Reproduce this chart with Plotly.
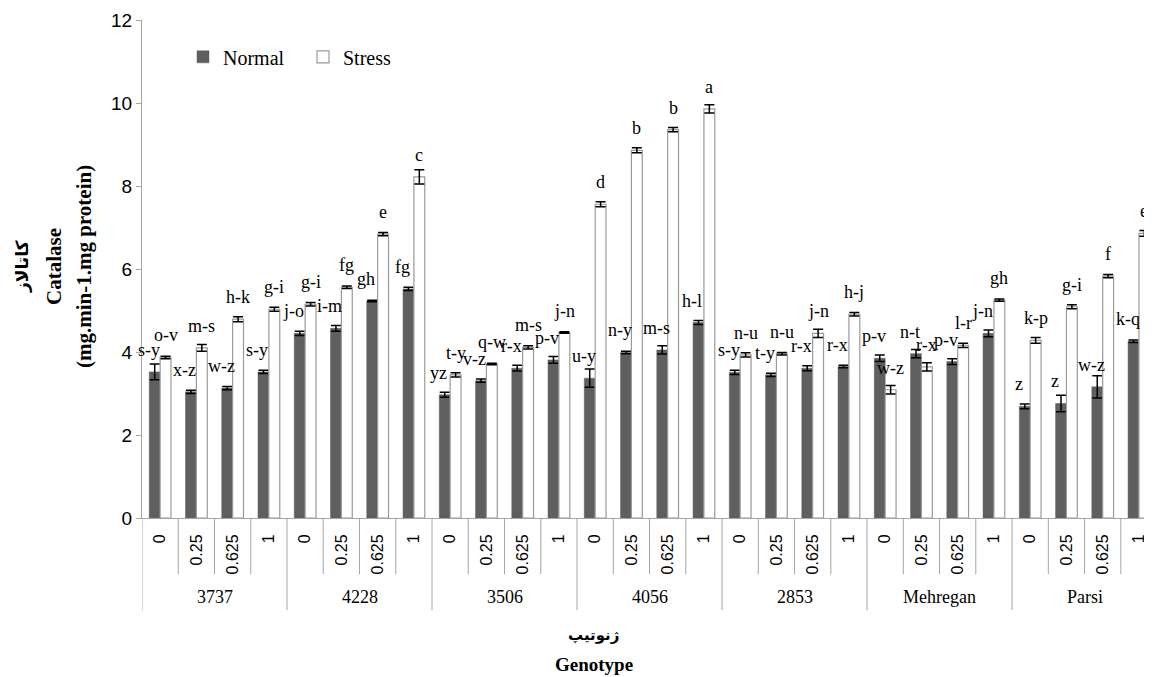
import plotly.graph_objects as go

genotypes = ["3737", "4228", "3506", "4056", "2853", "Mehregan", "Parsi"]
concentrations = ["0", "0.25", "0.625", "1"]

normal = [3.52, 3.04, 3.13, 3.52, 4.45, 4.57, 5.23, 5.52, 2.97, 3.31, 3.61, 3.81,
          3.37, 3.99, 4.05, 4.71, 3.51, 3.45, 3.61, 3.65, 3.85, 3.96, 3.77, 4.45,
          2.69, 2.76, 3.16, 4.26]
stress = [3.87, 4.10, 4.79, 5.03, 5.15, 5.56, 6.84, 8.22, 3.45, 3.71, 4.11, 4.47,
          7.56, 8.86, 9.36, 9.86, 3.93, 3.96, 4.45, 4.91, 3.09, 3.64, 4.16, 5.25,
          4.28, 5.09, 5.83, 6.86]
normal_err = [0.19, 0.04, 0.04, 0.04, 0.05, 0.07, 0.02, 0.04, 0.06, 0.04, 0.07, 0.08,
              0.22, 0.03, 0.10, 0.05, 0.05, 0.04, 0.06, 0.03, 0.08, 0.10, 0.07, 0.08,
              0.06, 0.20, 0.27, 0.03]
stress_err = [0.03, 0.08, 0.06, 0.05, 0.04, 0.03, 0.04, 0.17, 0.05, 0.02, 0.04, 0.02,
              0.06, 0.06, 0.05, 0.10, 0.05, 0.03, 0.10, 0.04, 0.10, 0.10, 0.05, 0.03,
              0.07, 0.05, 0.04, 0.07]
normal_labels = ["s-y", "x-z", "w-z", "s-y", "j-o", "i-m", "gh", "fg", "yz", "v-z", "r-x", "p-v",
                 "u-y", "n-y", "m-s", "h-l", "s-y", "t-y", "r-x", "r-x", "p-v", "n-t", "p-v", "j-n",
                 "z", "z", "w-z", "k-q"]
stress_labels = ["o-v", "m-s", "h-k", "g-i", "g-i", "fg", "e", "c", "t-y", "q-w", "m-s", "j-n",
                 "d", "b", "b", "a", "n-u", "n-u", "j-n", "h-j", "w-z", "r-x", "l-r", "gh",
                 "k-p", "g-i", "f", "e"]

n_cat = len(concentrations)
idx = list(range(len(genotypes) * n_cat))
tick_text = [concentrations[i % n_cat] for i in idx]

SERIF = "Liberation Serif, Times New Roman, DejaVu Serif"
SANS = "Liberation Sans, Arial, DejaVu Sans"
BARGAP = 0.4
half = (1 - BARGAP) / 4  # center offset of each bar within the pair
LABEL_LIFT = 22          # px from bar top to label centre

# page body has an 8px default margin; the figure is sized to fit the window
BODY = 8
L, T, B = 134, 12, 159
FIG_W, FIG_H = 1152 - BODY, 677 - BODY
W = FIG_W - L


def px_to_paper_x(screen_x):
    return (screen_x - BODY - L) / W


fig = go.Figure()
fig.add_trace(go.Bar(
    x=idx, y=normal, name="Normal",
    marker=dict(color="#5f5f5f", line=dict(color="#5f5f5f", width=0.5)),
    error_y=dict(type="data", array=normal_err, color="black", thickness=1.5, width=5),
))
fig.add_trace(go.Bar(
    x=idx, y=stress, name="Stress",
    marker=dict(color="white", line=dict(color="#9a9a9a", width=1.2)),
    error_y=dict(type="data", array=stress_err, color="black", thickness=1.5, width=5),
))

annotations = []
for i in idx:
    annotations.append(dict(x=i - half, y=normal[i], xref="x", yref="y",
                            text=normal_labels[i], showarrow=False, yanchor="middle",
                            xshift=-6, yshift=LABEL_LIFT, font=dict(family=SERIF, size=18, color="black")))
    annotations.append(dict(x=i + half, y=stress[i], xref="x", yref="y",
                            text=stress_labels[i], showarrow=False, yanchor="middle",
                            yshift=LABEL_LIFT, font=dict(family=SERIF, size=18, color="black")))

for g, name in enumerate(genotypes):
    annotations.append(dict(x=g * n_cat + (n_cat - 1) / 2, y=-0.159, xref="x", yref="paper",
                            text=name, showarrow=False, yanchor="middle",
                            font=dict(family=SERIF, size=18, color="black")))

shapes = []
for k in range(len(idx) + 1):
    bottom = -0.185 if k % n_cat == 0 else -0.113
    shapes.append(dict(type="line", xref="x", yref="paper", x0=k - 0.5, x1=k - 0.5,
                       y0=0, y1=bottom, line=dict(color="#a6a6a6", width=1)))

# axis titles
annotations += [
    dict(x=px_to_paper_x(593), y=-0.235, xref="paper", yref="paper", text="<b>ژنوتیپ</b>",
         showarrow=False, xanchor="center", yanchor="middle",
         font=dict(family="DejaVu Sans", size=15, color="black")),
    dict(x=px_to_paper_x(594), y=-0.295, xref="paper", yref="paper", text="<b>Genotype</b>",
         showarrow=False, xanchor="center", yanchor="middle",
         font=dict(family=SERIF, size=19, color="black")),
    dict(x=px_to_paper_x(22), y=0.504, xref="paper", yref="paper", text="<b>کاتالاز</b>",
         showarrow=False, textangle=-90, xanchor="center", yanchor="middle",
         font=dict(family="DejaVu Sans", size=17, color="black")),
    dict(x=px_to_paper_x(54), y=0.504, xref="paper", yref="paper", text="<b>Catalase</b>",
         showarrow=False, textangle=-90, xanchor="center", yanchor="middle",
         font=dict(family=SERIF, size=21, color="black")),
    dict(x=px_to_paper_x(84), y=0.504, xref="paper", yref="paper", text="<b>(mg.min-1.mg protein)</b>",
         showarrow=False, textangle=-90, xanchor="center", yanchor="middle",
         font=dict(family=SERIF, size=21, color="black")),
]

fig.update_layout(
    width=FIG_W, height=FIG_H,
    margin=dict(l=L, r=0, t=T, b=B, autoexpand=False),
    paper_bgcolor="white", plot_bgcolor="white",
    barmode="group", bargap=BARGAP, bargroupgap=0,
    showlegend=True,
    legend=dict(orientation="h", x=px_to_paper_x(183), y=0.926, yanchor="middle", xanchor="left",
                font=dict(family=SERIF, size=20, color="black"), entrywidth=75,
                bgcolor="rgba(0,0,0,0)"),
    xaxis=dict(range=[-0.5, 27.36], tickmode="array", tickvals=idx, ticktext=tick_text,
               tickangle=-90, ticks="", showgrid=False, zeroline=False, automargin=False,
               showline=True, linecolor="#a6a6a6", linewidth=1,
               tickfont=dict(family=SANS, size=16, color="black"), ticklabelstandoff=9),
    yaxis=dict(range=[0, 12], dtick=2, tick0=0, ticks="outside", ticklen=5, tickcolor="#a6a6a6",
               showgrid=False, zeroline=False, showline=True, linecolor="#a6a6a6", linewidth=1,
               automargin=False, tickfont=dict(family=SANS, size=19, color="black")),
    annotations=annotations, shapes=shapes,
)

fig.write_html("out.html")
